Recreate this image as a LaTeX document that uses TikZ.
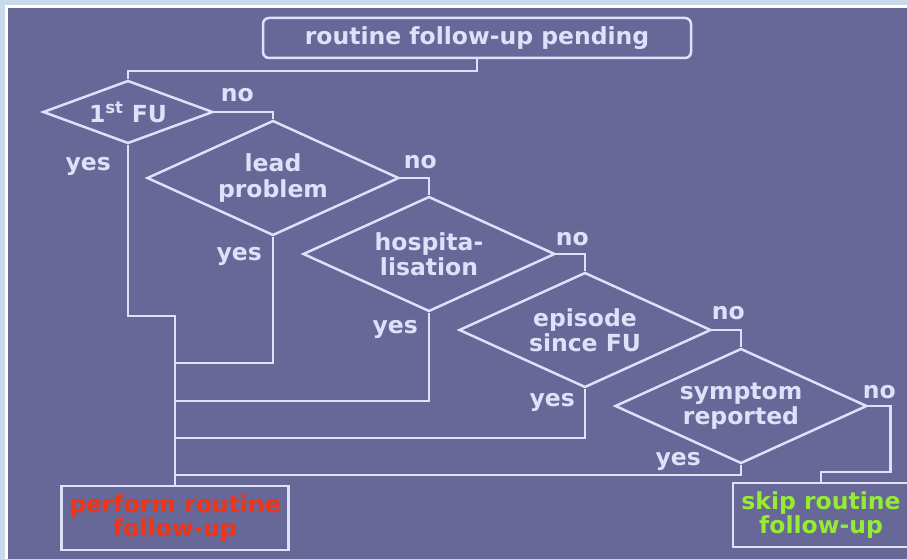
\documentclass[tikz,border=0pt]{standalone}
\usepackage{fontspec}
\setmainfont{DejaVu Sans}
\usetikzlibrary{shapes.geometric}

\definecolor{bgblue}{RGB}{198,218,234}
\definecolor{panelblue}{RGB}{103,103,152}
\definecolor{linelilac}{RGB}{224,224,250}
\definecolor{perfred}{RGB}{240,52,22}
\definecolor{skipgreen}{RGB}{150,236,52}

\begin{document}
\begin{tikzpicture}[x=1pt, y=-1pt, node distance=156pt, line width=2.5pt]
\tikzstyle{base} = [text=linelilac, font=\fontsize{23.5}{25.5}\selectfont\bfseries]
\tikzstyle{decision} = [base, draw=linelilac, diamond, aspect=2.2, inner sep=0pt, minimum width=252pt, minimum height=115pt, align=center]
\tikzstyle{startbox} = [base, draw=linelilac, rectangle, rounded corners=6pt, minimum width=428pt, minimum height=40pt]
\tikzstyle{endbox} = [base, draw=linelilac, rectangle, minimum height=64pt, align=center, font=\fontsize{23.5}{24.5}\selectfont\bfseries]
\tikzstyle{lbl} = [base, inner sep=1pt]
\tikzstyle{flow} = [draw=linelilac]

% Slide background
\useasboundingbox (0,0) rectangle (907,559);
\fill [bgblue] (0,0) rectangle (907,559);
\fill [white] (5,5) rectangle (912,564);
\fill [panelblue] (8,8) rectangle (912,564);

% Nodes down the staircase
\node [startbox] (START) at (477,38) {routine follow-up pending};
\node [decision, aspect=2.7, minimum width=170pt, minimum height=63pt] (FU) at (128,112) {1\textsuperscript{st} FU};
\node [decision, right of=FU, xshift=-11pt, yshift=-66pt] (LEAD) {lead\\problem};
\node [decision, right of=LEAD, yshift=-76pt] (HOSP) {hospita-\\lisation};
\node [decision, right of=HOSP, yshift=-76pt] (EPIS) {episode\\since FU};
\node [decision, right of=EPIS, yshift=-76pt] (SYMP) {symptom\\reported};

% Outcomes
\node [endbox, text=perfred, minimum width=227pt] (PERF) at (175,518) {perform routine\\follow-up};
\node [endbox, text=skipgreen, minimum width=176pt] (SKIP) at (821,515) {skip routine\\follow-up};

% "no" branches
\draw [flow] (START.south) -- ++(0,12) -| (FU.north);
\draw [flow] (FU.east) -| (LEAD.north);
\draw [flow] (LEAD.east) -| (HOSP.north);
\draw [flow] (HOSP.east) -| (EPIS.north);
\draw [flow] (EPIS.east) -| (SYMP.north);
\draw [flow] (SYMP.east) -- ++(22,0) -- ++(0,66) -| (SKIP.north);

% "yes" branches into the bus
\draw [flow] (FU.south) -- ++(0,171) -| (PERF.north);
\draw [flow] (LEAD.south) -- ++(0,126) -| (PERF.north);
\draw [flow] (HOSP.south) -- ++(0,88) -| (PERF.north);
\draw [flow] (EPIS.south) -- ++(0,49) -| (PERF.north);
\draw [flow] (SYMP.south) -- ++(0,10) -| (PERF.north);

% Branch labels
\node [lbl] (no1) at ([xshift=23pt, yshift=17pt]FU.east) {no};
\node [lbl] (no2) at ([xshift=20pt, yshift=16pt]LEAD.east) {no};
\node [lbl] (no3) at ([xshift=16pt, yshift=15pt]HOSP.east) {no};
\node [lbl] (no4) at ([xshift=16pt, yshift=17pt]EPIS.east) {no};
\node [lbl] (no5) at ([xshift=11pt, yshift=14pt]SYMP.east) {no};
\node [lbl, anchor=east] (yes1) at ([xshift=-15pt, yshift=-22pt]FU.south) {yes};
\node [lbl, anchor=east] (yes2) at ([xshift=-9pt, yshift=-20pt]LEAD.south) {yes};
\node [lbl, anchor=east] (yes3) at ([xshift=-9pt, yshift=-17pt]HOSP.south) {yes};
\node [lbl, anchor=east] (yes4) at ([xshift=-8pt, yshift=-14pt]EPIS.south) {yes};
\node [lbl, anchor=east] (yes5) at ([xshift=-38pt, yshift=3pt]SYMP.south) {yes};

\end{tikzpicture}
\end{document}
